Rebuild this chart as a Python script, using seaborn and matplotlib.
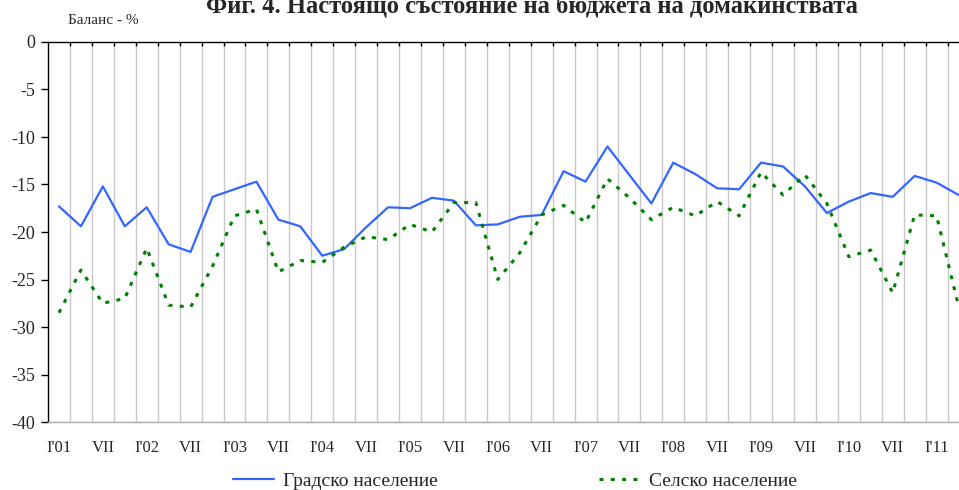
import numpy as np
import pandas as pd
import matplotlib
matplotlib.use("Agg")
import matplotlib.pyplot as plt
import matplotlib.ticker as ticker
import seaborn as sns

# Данни (баланс, %) - тримесечни наблюдения I'01 ... IV'11
years = ["01", "02", "03", "04", "05", "06", "07", "08", "09", "10", "11"]
periods = [p for y in years for p in (f"I'{y}", "IV", "VII", "X")][:42]
urban = [-17.3, -19.4, -15.2, -19.4, -17.4, -21.3, -22.1, -16.3, -15.5, -14.7,
         -18.7, -19.4, -22.5, -21.8, -19.5, -17.4, -17.5, -16.4, -16.7, -19.3,
         -19.2, -18.4, -18.2, -13.6, -14.7, -11.0, -14.0, -17.0, -12.7, -13.9,
         -15.4, -15.5, -12.7, -13.1, -15.2, -18.0, -16.8, -15.9, -16.3, -14.1,
         -14.8, -16.1]
rural = [-28.5, -24.0, -27.5, -27.0, -21.7, -27.7, -27.9, -23.6, -18.3, -17.6,
         -24.2, -23.0, -23.2, -21.6, -20.5, -20.8, -19.2, -20.0, -16.9, -16.9,
         -25.0, -22.2, -18.2, -17.2, -19.0, -14.4, -16.4, -18.7, -17.4, -18.3,
         -16.8, -18.3, -13.7, -16.1, -14.0, -17.0, -22.6, -21.9, -26.4, -18.2,
         -18.3, -27.8]
y_ticks = [0, -5, -10, -15, -20, -25, -30, -35, -40]

df = pd.DataFrame({"x": np.arange(len(periods)), "period": periods,
                   "Градско население": urban, "Селско население": rural})

sns.set_theme(style="white")
plt.rcParams["font.family"] = ["Liberation Serif", "DejaVu Serif"]

fig = plt.figure(figsize=(9.59, 4.90), dpi=100)
step = 21.94
ax = fig.add_axes([48 / 959, 1 - 422 / 490, 911 / 959, 380 / 490])

sns.lineplot(data=df, x="x", y="Градско население", ax=ax, color="#3366ff",
             linewidth=1.6, label="Градско население")
sns.lineplot(data=df, x="x", y="Селско население", ax=ax, color="#008000",
             linewidth=2.2, linestyle=(0, (1.3, 2.4)), label="Селско население")

ax.set_xlim(-0.5, -0.5 + 911 / step)
ax.set_ylim(-40, 0)
ax.set_yticks(y_ticks)
ax.set_yticklabels([str(v) for v in y_ticks], fontsize=13)

ax.xaxis.set_major_locator(ticker.FixedLocator(df["x"][::2]))
ax.set_xticklabels(df["period"][::2], fontsize=12)
ax.xaxis.set_minor_locator(ticker.FixedLocator(np.arange(len(periods)) + 0.5))
ax.tick_params(axis="x", which="major", length=0, pad=13)
ax.tick_params(axis="x", which="minor", top=True, bottom=False, direction="in",
               length=3, color="black")
ax.tick_params(axis="y", which="major", left=True, direction="out", length=5,
               width=1, color="black", pad=4)
ax.grid(which="minor", axis="x", color="#c8c8c8", linewidth=1)
ax.grid(which="major", axis="both", visible=False)

ax.spines["top"].set_color("black")
ax.spines["left"].set_color("black")
ax.spines["bottom"].set_color("#a8a8a8")
ax.spines["right"].set_visible(False)
for s in ["top", "left", "bottom"]:
    ax.spines[s].set_linewidth(1)
ax.set_xlabel("")
ax.set_ylabel("")

# заглавието е частично отрязано отгоре, както в оригинала
fig.text(532 / 959, 1 - 13 / 490, "Фиг. 4. Настоящо състояние на бюджета на домакинствата",
         ha="center", va="baseline", fontsize=17.7, fontweight="bold")
fig.text(68 / 959, 1 - 20 / 490, "Баланс - %", ha="left", va="center", fontsize=11)

ax.get_legend().remove()
handles, labels = ax.get_legend_handles_labels()
fig.legend(handles, labels, loc="center", bbox_to_anchor=(515 / 959, 1 - 481 / 490),
           ncol=2, frameon=False, fontsize=14, handlelength=2.1,
           columnspacing=8.3, handletextpad=0.46)

fig.savefig("out.png", dpi=100)
